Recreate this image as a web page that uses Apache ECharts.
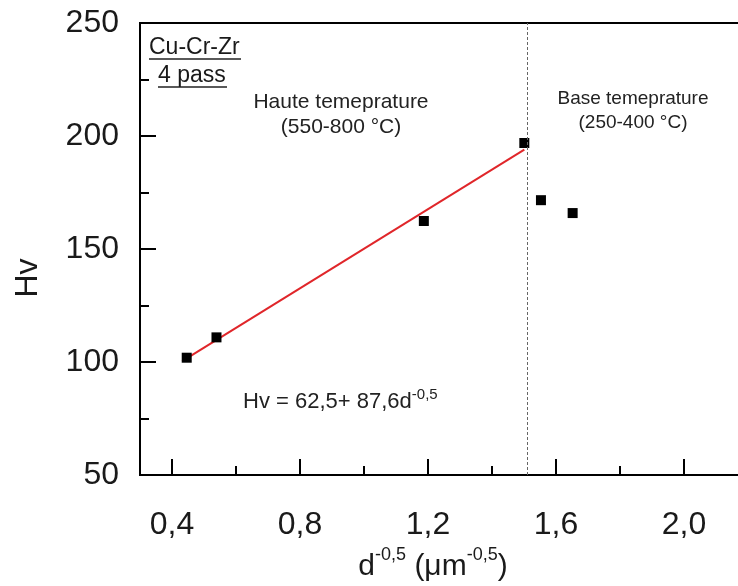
<!DOCTYPE html>
<html>
<head>
<meta charset="utf-8">
<script src="https://cdn.jsdelivr.net/npm/echarts@6/dist/echarts.min.js"></script>
<style>
  html, body { margin: 0; padding: 0; background: #fff; }
  #chart { width: 738px; height: 586px; }
</style>
</head>
<body>
<div id="chart"></div>
<script>
// Grain size dependence of hardness (Hall-Petch), Cu-Cr-Zr after 4 passes
const dInv = [0.446, 0.539, 1.187, 1.501, 1.553, 1.652];
const hv = [101.9, 110.9, 162.4, 196.9, 171.6, 165.9];

// Linear fit Hv = 62,5 + 87,6 d^-0,5 over the high-temperature points
const fitIntercept = 62.5;
const fitSlope = 87.6;
const fitRange = [0.432, 1.501];

// Boundary between the high- and low-temperature regimes
const regimeBoundary = 1.512;

// Axis ticks
const xMajorTicks = [0.4, 0.8, 1.2, 1.6, 2.0];
const xMinorTicks = [0.6, 1.0, 1.4, 1.8, 2.2];
const xRange = [0.3, 2.2];
const yRange = [50, 250];
const yStep = 50;

const points = dInv.map((x, i) => [x, hv[i]]);
const fitLine = fitRange.map(x => [x, fitIntercept + fitSlope * x]);

const FONT = 'Liberation Sans, Arial, sans-serif';
const TXT = '#1a1a1a';

const chart = echarts.init(document.getElementById('chart'), null, { renderer: 'canvas' });

chart.setOption({
  backgroundColor: '#fff',
  animation: false,
  textStyle: { fontFamily: FONT },
  grid: {
    left: 140, top: 23, right: -10, bottom: 111,
    containLabel: false,
    outerBoundsMode: 'none',
    show: true, borderColor: '#000', borderWidth: 2, backgroundColor: 'transparent'
  },
  xAxis: [
    {
      type: 'value', min: xRange[0], max: xRange[1],
      name: '{b|d}{s|-0,5}{b| (μm}{s|-0,5}{b|)}',
      nameLocation: 'middle', nameGap: 68,
      nameTextStyle: {
        padding: [0, 22, 0, 0],
        rich: {
          b: { fontSize: 30, color: TXT, fontFamily: FONT, verticalAlign: 'bottom', lineHeight: 36 },
          s: { fontSize: 18, color: TXT, fontFamily: FONT, verticalAlign: 'top', lineHeight: 36 }
        }
      },
      axisLine: { show: true, lineStyle: { color: '#000', width: 2 } },
      axisTick: { show: true, inside: true, length: 16, customValues: xMajorTicks, lineStyle: { color: '#000', width: 2 } },
      axisLabel: {
        show: true, customValues: xMajorTicks, margin: 34,
        fontSize: 32, color: TXT, fontFamily: FONT,
        formatter: v => v.toFixed(1).replace('.', ',')
      },
      splitLine: { show: false }
    },
    {
      type: 'value', min: xRange[0], max: xRange[1], position: 'bottom',
      axisLine: { show: false },
      axisTick: { show: true, inside: true, length: 9, customValues: xMinorTicks, lineStyle: { color: '#000', width: 2 } },
      axisLabel: { show: false },
      splitLine: { show: false }
    }
  ],
  yAxis: {
    type: 'value', min: yRange[0], max: yRange[1], interval: yStep,
    name: 'Hv', nameLocation: 'middle', nameGap: 96,
    nameTextStyle: { fontSize: 32, color: TXT, fontFamily: FONT, padding: [0, 58, 0, 0] },
    axisLine: { show: true, lineStyle: { color: '#000', width: 2 } },
    axisTick: { show: true, inside: true, length: 16, lineStyle: { color: '#000', width: 2 } },
    minorTick: { show: true, splitNumber: 2, length: 9, lineStyle: { color: '#000', width: 2 } },
    axisLabel: { fontSize: 32, color: TXT, fontFamily: FONT, margin: 21 },
    splitLine: { show: false }
  },
  series: [
    {
      name: 'Fit', type: 'line', data: fitLine,
      symbol: 'none', silent: true, z: 2,
      lineStyle: { color: '#e0262a', width: 2 }
    },
    {
      name: 'Hv', type: 'scatter', data: points,
      symbol: 'rect', symbolSize: 10, z: 3,
      itemStyle: { color: '#000', opacity: 1 },
      markLine: {
        silent: true, symbol: 'none', animation: false,
        label: { show: false },
        lineStyle: { color: '#666', width: 1, type: [3, 2] },
        data: [{ xAxis: regimeBoundary }]
      }
    }
  ],
  graphic: [
    { type: 'text', left: 149, top: 36, style: { text: 'Cu-Cr-Zr', fontSize: 23, fontFamily: FONT, fill: TXT } },
    { type: 'line', shape: { x1: 149, y1: 59, x2: 241, y2: 59 }, style: { stroke: '#222', lineWidth: 1.5 } },
    { type: 'text', left: 158, top: 64, style: { text: '4 pass', fontSize: 23, fontFamily: FONT, fill: TXT } },
    { type: 'line', shape: { x1: 158, y1: 87, x2: 227, y2: 87 }, style: { stroke: '#222', lineWidth: 1.5 } },
    {
      type: 'text', x: 341, y: 115,
      style: { text: 'Haute temeprature\n(550-800 °C)', fontSize: 21, lineHeight: 25, fontFamily: FONT, fill: '#222', align: 'center', verticalAlign: 'middle' }
    },
    {
      type: 'text', x: 633, y: 111,
      style: { text: 'Base temeprature\n(250-400 °C)', fontSize: 19, lineHeight: 24, fontFamily: FONT, fill: '#222', align: 'center', verticalAlign: 'middle' }
    },
    {
      type: 'text', x: 243, y: 400,
      style: {
        text: '{m|Hv = 62,5+ 87,6d}{s|-0,5}',
        verticalAlign: 'middle', align: 'left',
        rich: {
          m: { fontSize: 22, fontFamily: FONT, fill: '#222', color: '#222', verticalAlign: 'bottom', lineHeight: 26 },
          s: { fontSize: 15, fontFamily: FONT, fill: '#222', color: '#222', verticalAlign: 'top', lineHeight: 26 }
        }
      }
    }
  ]
});
</script>
</body>
</html>
